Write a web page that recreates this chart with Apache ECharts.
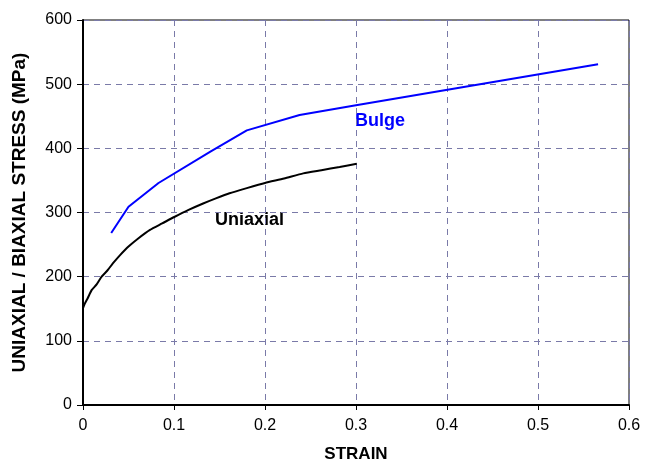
<!DOCTYPE html>
<html lang="en">
<head>
    <meta charset="UTF-8">
    <title>Stress vs strain</title>
    <style>
        * { padding: 0; margin: 0; box-sizing: border-box; }
        html, body { width: 100%; height: 100%; background: #fff; }
        #chart-container { width: 646px; height: 461px; }
    </style>
</head>
<body>
    <div id="chart-container"></div>
    <script src="https://cdn.jsdelivr.net/npm/echarts@6/dist/echarts.min.js"></script>
    <script>
        // uniaxial tensile curve (strain, MPa)
        const uniStrain = [0, 0.002, 0.005, 0.0095, 0.015, 0.0205, 0.027, 0.033, 0.041, 0.05, 0.061, 0.0736, 0.087,
            0.1003, 0.116, 0.132, 0.146, 0.161, 0.18, 0.2, 0.221, 0.242, 0.262, 0.282, 0.3008]
        const uniStress = [151, 158, 166, 179, 188, 200, 210, 221, 234, 247, 260, 273, 283,
            293, 304, 314, 322, 330, 338, 346, 353, 361, 366, 371, 376]

        // bulge test (biaxial)
        const bulgeStrain = [0.031, 0.05, 0.083, 0.14, 0.18, 0.238, 0.3, 0.566]
        const bulgeStress = [268, 309, 346, 395, 428, 452, 467, 531]

        const xTicks = [0, 0.1, 0.2, 0.3, 0.4, 0.5, 0.6]
        const yTicks = [0, 100, 200, 300, 400, 500, 600]

        const pair = (xs, ys) => xs.map((x, i) => [x, ys[i]])

        var myChart = echarts.init(document.getElementById('chart-container'));

        const font = 'Liberation Sans, Arial, sans-serif'
        var option = {
            animation: false,
            backgroundColor: '#fff',
            grid: {
                left: 83, right: 17, top: 20, bottom: 56,
                outerBoundsMode: 'none', containLabel: false,
                show: true, borderColor: '#000', borderWidth: 1
            },
            xAxis: {
                type: 'value',
                min: xTicks[0], max: xTicks[xTicks.length - 1], interval: 0.1,
                name: 'STRAIN', nameLocation: 'middle', nameGap: 41,
                nameTextStyle: { fontFamily: font, fontWeight: 'bold', fontSize: 17, color: '#000' },
                axisLine: { lineStyle: { color: '#000', width: 2 } },
                axisTick: { show: true, length: 5, lineStyle: { color: '#000' } },
                axisLabel: { fontFamily: font, fontSize: 16, color: '#000', margin: 13,
                    formatter: v => String(+v.toFixed(1)) },
                splitLine: { lineStyle: { color: '#7a7aa8', type: [6, 5], width: 1 } }
            },
            yAxis: {
                type: 'value',
                min: yTicks[0], max: yTicks[yTicks.length - 1], interval: 100,
                name: 'UNIAXIAL / BIAXIAL STRESS (MPa)', nameLocation: 'middle', nameGap: 54,
                nameTextStyle: { fontFamily: font, fontWeight: 'bold', fontSize: 19, color: '#000' },
                axisLine: { show: true, lineStyle: { color: '#000', width: 2 } },
                axisTick: { show: true, length: 6, lineStyle: { color: '#000' } },
                axisLabel: { fontFamily: font, fontSize: 16, color: '#000', margin: 11 },
                splitLine: { lineStyle: { color: '#7a7aa8', type: [6, 5], width: 1 } }
            },
            series: [{
                    name: 'Uniaxial',
                    type: 'line',
                    data: pair(uniStrain, uniStress),
                    showSymbol: false,
                    smooth: 0.2,
                    lineStyle: { color: '#000', width: 2 }
                },
                {
                    name: 'Bulge',
                    type: 'line',
                    data: pair(bulgeStrain, bulgeStress),
                    showSymbol: false,
                    lineStyle: { color: '#0000ff', width: 2 }
                }
            ],
            graphic: [{
                    type: 'text', left: 215, top: 211,
                    style: { text: 'Uniaxial', fill: '#000', font: 'bold 18px ' + font }
                },
                {
                    type: 'text', left: 355, top: 112,
                    style: { text: 'Bulge', fill: '#0000ff', font: 'bold 18px ' + font }
                }
            ]
        };
        myChart.setOption(option);
    </script>
</body>
</html>
